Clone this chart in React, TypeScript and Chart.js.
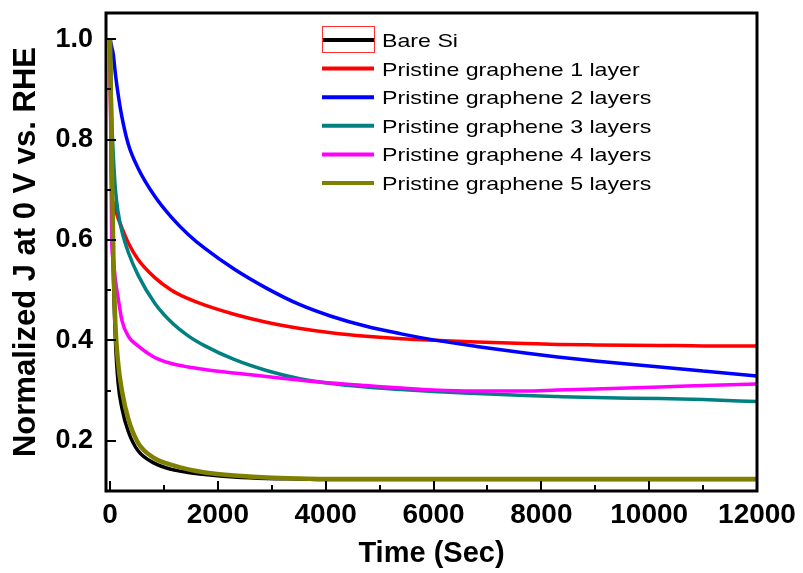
import { useEffect, useRef } from "react";
import { Chart, registerables } from "chart.js";

Chart.register(...registerables);

// Time (s)
const times = [0, 30, 60, 100, 150, 220, 340, 520, 830, 1140, 1450, 1760, 2300, 2900, 3500, 4100, 4750, 5400, 6000, 6800, 7700, 8300, 9000, 10200, 11000, 12000];

const bareSi = [1.0, 0.72, 0.54, 0.40, 0.315, 0.265, 0.218, 0.180, 0.155, 0.143, 0.137, 0.133, 0.128, 0.125, 0.124, 0.123, 0.123, 0.123, 0.123, 0.123, 0.123, 0.123, 0.123, 0.123, 0.123, 0.123];
const layer1 = [1.0, 0.69, 0.675, 0.66, 0.643, 0.624, 0.594, 0.561, 0.525, 0.500, 0.483, 0.470, 0.452, 0.436, 0.424, 0.415, 0.408, 0.403, 0.400, 0.397, 0.394, 0.392, 0.391, 0.390, 0.389, 0.389];
const layer2 = [1.0, 0.985, 0.97, 0.93, 0.89, 0.845, 0.79, 0.743, 0.687, 0.645, 0.611, 0.583, 0.542, 0.504, 0.472, 0.448, 0.428, 0.413, 0.401, 0.388, 0.375, 0.367, 0.359, 0.347, 0.339, 0.329];
const layer3 = [1.0, 0.85, 0.77, 0.70, 0.655, 0.617, 0.575, 0.530, 0.474, 0.436, 0.409, 0.389, 0.362, 0.340, 0.324, 0.314, 0.307, 0.302, 0.298, 0.294, 0.290, 0.288, 0.286, 0.284, 0.282, 0.278];
const layer4 = [1.0, 0.60, 0.56, 0.52, 0.485, 0.44, 0.408, 0.389, 0.366, 0.354, 0.347, 0.342, 0.335, 0.328, 0.321, 0.315, 0.310, 0.305, 0.301, 0.299, 0.299, 0.301, 0.303, 0.307, 0.310, 0.313];
const layer5 = [1.0, 0.78, 0.58, 0.43, 0.355, 0.30, 0.243, 0.196, 0.165, 0.152, 0.143, 0.137, 0.131, 0.127, 0.125, 0.124, 0.124, 0.124, 0.124, 0.124, 0.124, 0.124, 0.124, 0.124, 0.124, 0.124];

const seriesLabels = [
  "Bare Si",
  "Pristine graphene 1 layer",
  "Pristine graphene 2 layers",
  "Pristine graphene 3 layers",
  "Pristine graphene 4 layers",
  "Pristine graphene 5 layers",
];
const seriesColors = ["#000000", "#ff0000", "#0000ff", "#008080", "#ff00ff", "#808000"];
const seriesValues = [bareSi, layer1, layer2, layer3, layer4, layer5];

const xTicks = [0, 2000, 4000, 6000, 8000, 10000, 12000];
const xMinorTicks = [1000, 3000, 5000, 7000, 9000, 11000];
const yTicks = [0.2, 0.4, 0.6, 0.8, 1.0];
const yMinorTicks = [0.3, 0.5, 0.7, 0.9];

const FONT = "'Liberation Sans', Arial, Helvetica, sans-serif";

const framePlugin = {
  id: "frame",
  afterDatasetsDraw(chart: any) {
    const { ctx, chartArea: a, scales } = chart;
    const x = scales.x;
    const y = scales.y;
    ctx.save();
    ctx.strokeStyle = "#000";
    ctx.lineWidth = 2;
    ctx.beginPath();
    for (const v of xTicks) {
      const px = Math.round(x.getPixelForValue(v));
      ctx.moveTo(px, a.bottom);
      ctx.lineTo(px, a.bottom - 10);
    }
    for (const v of xMinorTicks) {
      const px = Math.round(x.getPixelForValue(v));
      ctx.moveTo(px, a.bottom);
      ctx.lineTo(px, a.bottom - 6);
    }
    for (const v of yTicks) {
      const py = Math.round(y.getPixelForValue(v));
      ctx.moveTo(a.left, py);
      ctx.lineTo(a.left + 10, py);
    }
    for (const v of yMinorTicks) {
      const py = Math.round(y.getPixelForValue(v));
      ctx.moveTo(a.left, py);
      ctx.lineTo(a.left + 5, py);
    }
    ctx.stroke();
    ctx.lineWidth = 3;
    ctx.strokeRect(a.left, a.top, a.right - a.left, a.bottom - a.top);

    // legend
    const lx0 = a.left + 216;
    const lx1 = a.left + 268;
    const tx = a.left + 276;
    const rowTop = a.top + 27;
    const rowGap = 28.6;
    ctx.font = `19px ${FONT}`;
    ctx.textBaseline = "alphabetic";
    ctx.textAlign = "left";
    seriesLabels.forEach((label, i) => {
      const ry = rowTop + i * rowGap;
      ctx.strokeStyle = seriesColors[i];
      ctx.lineWidth = 4;
      ctx.beginPath();
      ctx.moveTo(lx0, ry);
      ctx.lineTo(lx1, ry);
      ctx.stroke();
      ctx.save();
      ctx.translate(tx, ry + 7);
      ctx.scale(1.22, 1);
      ctx.fillStyle = "#000";
      ctx.fillText(label, 0, 0);
      ctx.restore();
      if (i === 0) {
        ctx.strokeStyle = "#ff3030";
        ctx.lineWidth = 1;
        ctx.strokeRect(lx0 + 0.5, ry - 13.5, lx1 - lx0, 26);
      }
    });
    ctx.restore();
  },
};

export default function App() {
  const canvasRef = useRef<HTMLCanvasElement | null>(null);

  useEffect(() => {
    const canvas = canvasRef.current;
    if (!canvas) return;
    Chart.defaults.font.family = FONT;
    Chart.defaults.color = "#000";
    const n = seriesValues.length;
    const chart = new Chart(canvas, {
      type: "line",
      data: {
        datasets: seriesValues.map((vals, i) => ({
          label: seriesLabels[i],
          data: times.map((t, k) => ({ x: t, y: vals[k] })),
          borderColor: seriesColors[i],
          backgroundColor: seriesColors[i],
          borderWidth: i === 5 ? 4.5 : 3.5,
          pointRadius: 0,
          cubicInterpolationMode: "monotone" as const,
          fill: false,
          order: n - i,
        })),
      },
      options: {
        animation: false,
        responsive: false,
        devicePixelRatio: 1,
        layout: { padding: { top: 13, right: 46, left: 0, bottom: 0 } },
        plugins: {
          legend: { display: false },
          tooltip: { enabled: false },
        },
        scales: {
          x: {
            type: "linear",
            min: -75,
            max: 12000,
            grid: { display: false, drawTicks: false },
            border: { display: false },
            afterFit: (s: any) => {
              s.height = 82;
              s.paddingLeft = 0;
              s.paddingRight = 0;
            },
            afterBuildTicks: (s: any) => {
              s.ticks = xTicks.map((v) => ({ value: v }));
            },
            ticks: {
              padding: 7,
              font: { size: 28, weight: "bold" },
              color: "#000",
              maxRotation: 0,
              autoSkip: false,
              callback: (v: any) => String(v),
            },
            title: {
              display: true,
              text: "Time (Sec)",
              font: { size: 29, weight: "bold" },
              color: "#000",
              padding: { top: 0, bottom: 2 },
            },
          },
          y: {
            type: "linear",
            min: 0.1,
            max: 1.052,
            grid: { display: false, drawTicks: false },
            border: { display: false },
            afterFit: (s: any) => {
              s.width = 106;
              s.paddingTop = 0;
              s.paddingBottom = 0;
            },
            afterBuildTicks: (s: any) => {
              s.ticks = yTicks.map((v) => ({ value: v }));
            },
            ticks: {
              padding: 13,
              font: { size: 27, weight: "bold" },
              color: "#000",
              autoSkip: false,
              callback: (v: any) => Number(v).toFixed(1),
            },
            title: {
              display: true,
              text: "Normalized J at 0 V vs. RHE",
              font: { size: 31, weight: "bold" },
              color: "#000",
              padding: { top: 8, bottom: 0 },
            },
          },
        },
      },
      plugins: [framePlugin],
    });
    return () => chart.destroy();
  }, []);

  return (
    <div style={{ position: "fixed", left: 0, top: 0, width: 803, height: 573, background: "#fff" }}>
      <canvas ref={canvasRef} width={803} height={573} />
    </div>
  );
}
